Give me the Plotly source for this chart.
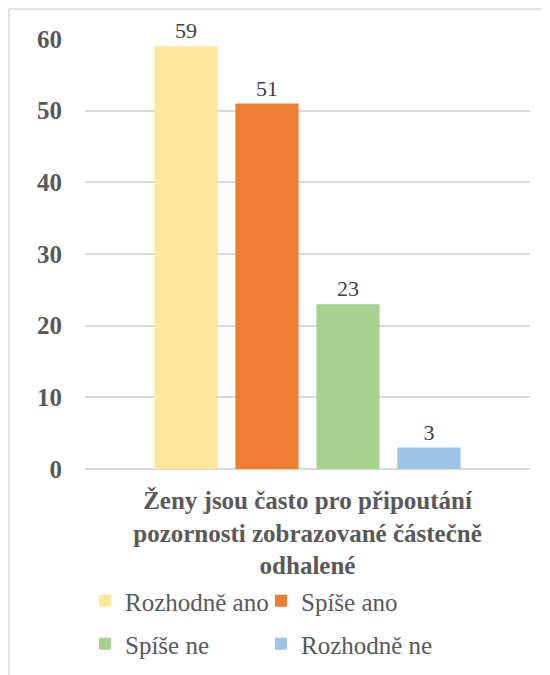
import plotly.graph_objects as go

# data
category = "Ženy jsou často pro připoutání<br>pozornosti zobrazované částečně<br>odhalené"
series_names = ["Rozhodně ano", "Spíše ano", "Spíše ne", "Rozhodně ne"]
series_values = [59, 51, 23, 3]
series_colors = ["#FFE699", "#ED7D31", "#A9D18E", "#9DC3E6"]
legend_rows = ["legend", "legend", "legend2", "legend2"]
y_ticks = [0, 10, 20, 30, 40, 50, 60]

SERIF = "Liberation Serif"

fig = go.Figure()

for name, val, color, lg in zip(series_names, series_values, series_colors, legend_rows):
    fig.add_trace(go.Bar(
        x=[category],
        y=[val],
        name=name,
        legend=lg,
        marker=dict(color=color, line=dict(width=0)),
        text=[str(val)],
        textposition="outside",
        textfont=dict(family=SERIF, size=22, color="#404040"),
        cliponaxis=False,
    ))

# outer chart border (top and left only visible)
fig.add_shape(type="line", xref="paper", yref="paper",
              x0=-0.171, x1=1.1, y0=1.07, y1=1.07,
              line=dict(color="#D9D9D9", width=1.5))
fig.add_shape(type="line", xref="paper", yref="paper",
              x0=-0.171, x1=-0.171, y0=1.07, y1=-0.5,
              line=dict(color="#D9D9D9", width=1.5))

legend_style = dict(
    orientation="h",
    xanchor="left",
    yanchor="middle",
    entrywidth=131,
    font=dict(family=SERIF, size=25, color="#595959"),
    itemclick=False,
    bgcolor="rgba(0,0,0,0)",
)

fig.update_layout(
    width=550,
    height=675,
    margin=dict(l=77, r=28, t=31, b=214),
    plot_bgcolor="white",
    paper_bgcolor="white",
    font=dict(family=SERIF),
    barmode="group",
    bargap=0.272,
    bargroupgap=0.22,
    showlegend=True,
    legend=dict(x=0.0, y=-0.307, **legend_style),
    legend2=dict(x=0.0, y=-0.407, **legend_style),
    xaxis=dict(
        showgrid=False,
        showline=False,
        ticks="",
        ticklabelstandoff=14,
        tickfont=dict(family=SERIF, size=25, color="#595959", weight="bold"),
    ),
    yaxis=dict(
        range=[0, 60],
        tickvals=y_ticks,
        showgrid=True,
        gridcolor="#D9D9D9",
        gridwidth=1.5,
        zeroline=True,
        zerolinecolor="#D9D9D9",
        zerolinewidth=1.5,
        showline=False,
        ticks="",
        ticklabelstandoff=22,
        tickfont=dict(family=SERIF, size=25, color="#595959", weight="bold"),
    ),
)

fig.write_html("out.html")
